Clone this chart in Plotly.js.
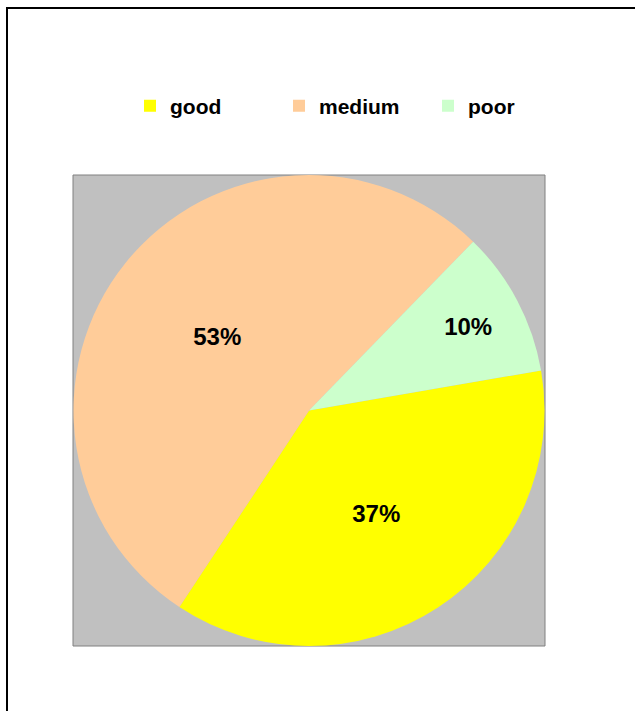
<!DOCTYPE html>
<html>
<head>
<meta charset="utf-8">
<script src="https://cdn.plot.ly/plotly-3.0.1.min.js"></script>
<style>html,body{margin:0;padding:0;background:#fff;}#chart{width:635px;height:711px;}</style>
</head>
<body>
<div id="chart"></div>
<script>
const categories = ['good', 'medium', 'poor'];
const shares = [37, 53, 10];
const sliceColors = ['#FFFF00', '#FFCC99', '#CCFFCC'];

const W = 635, H = 711;
const px = v => v / W;
const py = v => 1 - v / H;

const trace = {
  type: 'pie',
  labels: categories,
  values: shares,
  sort: false,
  direction: 'clockwise',
  rotation: 80.2,
  marker: { colors: sliceColors, line: { width: 0 } },
  textinfo: 'percent',
  textposition: 'inside',
  insidetextorientation: 'horizontal',
  textfont: { family: 'Liberation Sans, Arial, sans-serif', size: 24, color: '#000', weight: 'bold' },
  hoverinfo: 'label+percent',
  domain: { x: [px(73), px(545)], y: [py(646), py(175)] }
};

const layout = {
  width: W, height: H,
  margin: { l: 0, r: 0, t: 0, b: 0 },
  paper_bgcolor: '#fff',
  showlegend: true,
  legend: {
    orientation: 'h',
    x: px(130), xanchor: 'left',
    y: py(106), yanchor: 'middle',
    entrywidth: 104, entrywidthmode: 'pixels',
    font: { family: 'Liberation Sans, Arial, sans-serif', size: 21, color: '#000', weight: 'bold' },
    bgcolor: 'rgba(0,0,0,0)',
    traceorder: 'normal'
  },
  shapes: [
    { type: 'rect', xref: 'paper', yref: 'paper', layer: 'below',
      x0: px(73), x1: px(545), y0: py(646), y1: py(175),
      fillcolor: '#C0C0C0', line: { color: '#808080', width: 1 } },
    { type: 'rect', xref: 'paper', yref: 'paper', layer: 'above',
      x0: px(7), x1: 1.2, y0: -0.2, y1: py(8),
      fillcolor: 'rgba(0,0,0,0)', line: { color: '#000', width: 2 } }
  ]
};

Plotly.newPlot('chart', [trace], layout, { displayModeBar: false, staticPlot: true });
</script>
</body>
</html>
